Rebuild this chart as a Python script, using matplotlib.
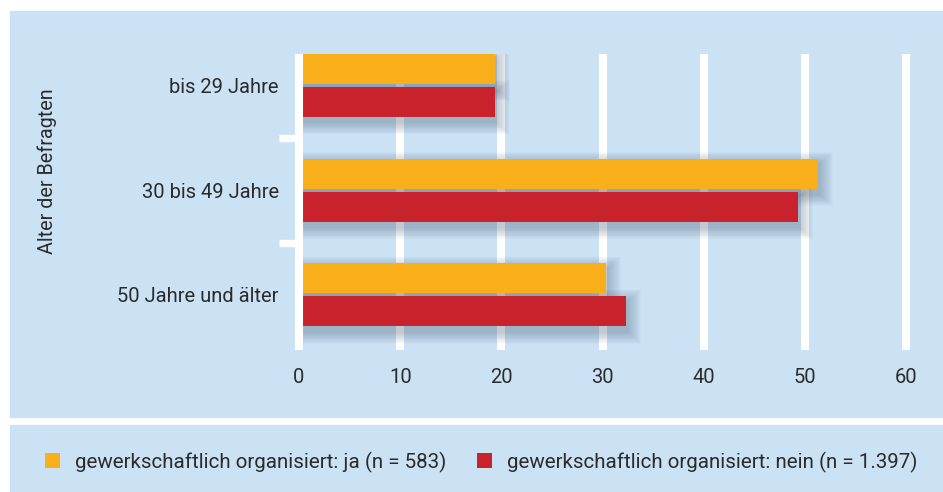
import matplotlib
matplotlib.use("Agg")
import matplotlib.pyplot as plt
from matplotlib.patches import Rectangle
import numpy as np

# data
categories = ["bis 29 Jahre", "30 bis 49 Jahre", "50 Jahre und älter"]
ja = [19.4, 51.3, 30.3]
nein = [19.4, 49.3, 32.3]
ja_label = "gewerkschaftlich organisiert: ja (n = 583)"
nein_label = "gewerkschaftlich organisiert: nein (n = 1.397)"
xticks = [0, 10, 20, 30, 40, 50, 60]
ylabel = "Alter der Befragten"

bg = "#cbe2f4"
orange = "#f9af19"
red = "#c8232c"
txt = "#2b2b2b"

plt.rcParams["font.family"] = ["Roboto", "DejaVu Sans"]

fig = plt.figure(figsize=(9.43, 4.92), dpi=100)
W, H = 943, 492

# panels
fig.patches.append(Rectangle((10 / W, 1 - 417 / H), 933 / W, 406 / H,
                             transform=fig.transFigure, color=bg, zorder=-2))
fig.patches.append(Rectangle((10 / W, 0), 933 / W, 67 / H,
                             transform=fig.transFigure, color=bg, zorder=-2))

ax = fig.add_axes([278.8 / W, 1 - 350 / H, 637.3 / W, 296 / H])
ax.set_facecolor("none")
for s in ax.spines.values():
    s.set_visible(False)

y = np.arange(len(categories))
h = 0.287
off = 0.158

# white grid lines
for t in xticks[1:]:
    ax.axvline(t, color="white", lw=5.8, zorder=1)
ax.hlines([0.5, 1.5], -2, 0, color="white", lw=5.3, zorder=1)

# soft shadow behind bars
for k in range(14):
    sx = 0.2 + k * 0.1
    sy = 0.01 + k * 0.008
    for vals, yy in ((ja, y - off), (nein, y + off)):
        ax.barh(yy + 0.05, np.array(vals) + sx, height=h + 2 * sy, left=0,
                color="#3d5470", alpha=0.024, lw=0, zorder=2)

ax.barh(y - off, ja, height=h, color=orange, lw=0, zorder=3, label=ja_label)
ax.barh(y + off, nein, height=h, color=red, lw=0, zorder=3, label=nein_label)
ax.axvline(0, color="white", lw=5.8, zorder=4)

ax.set_xlim(-2, 61)
ax.set_ylim(2.527, -0.301)
ax.set_xticks(xticks)
ax.set_xticklabels([str(t) for t in xticks], fontsize=14.5, color=txt)
ax.set_yticks(y)
ax.set_yticklabels(categories, fontsize=14.5, color=txt)
ax.tick_params(axis="x", length=0, pad=13)
ax.tick_params(axis="y", length=0, pad=0)

fig.text(47 / W, 1 - 171 / H, ylabel, rotation=90, ha="center", va="center",
         fontsize=14.2, color=txt)

handles, labels = ax.get_legend_handles_labels()
leg = fig.legend(handles, labels, loc="center left",
                 bbox_to_anchor=(29 / W, 1 - 462 / H), ncol=2, frameon=False,
                 handlelength=0.73, handleheight=0.73, handletextpad=0.72,
                 columnspacing=1.5, borderpad=0.3, prop={"size": 14.8})
for t in leg.get_texts():
    t.set_color(txt)

fig.savefig("out.png", dpi=100)
